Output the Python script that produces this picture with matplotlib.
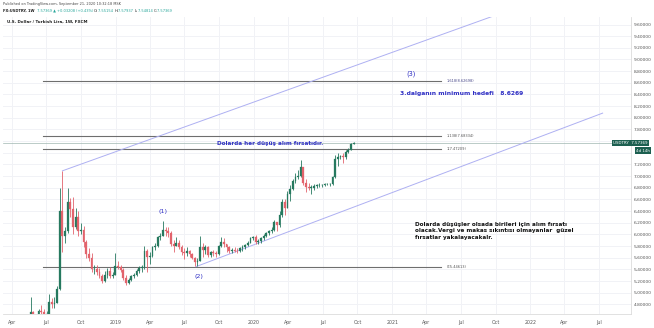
import matplotlib
matplotlib.use("Agg")
import matplotlib.pyplot as plt
import matplotlib.dates as mdates
import numpy as np
import pandas as pd

# ---- weekly USD/TRY bars (week start dates) ----
week_start = "2018-04-02"
first_open = 3.96
closes = [4.06, 4.09, 4.07, 4.06, 4.27, 4.37, 4.55, 4.66, 4.52, 4.45,
          4.69, 4.67, 4.56, 4.63, 4.84, 4.80, 4.82, 5.07, 6.40, 5.98,
          6.05, 6.55, 6.43, 6.12, 6.30, 6.05, 6.08, 5.87, 5.66, 5.60,
          5.40, 5.40, 5.36, 5.28, 5.20, 5.30, 5.37, 5.28, 5.30, 5.45,
          5.44, 5.39, 5.26, 5.16, 5.22, 5.28, 5.30, 5.37, 5.43, 5.44,
          5.72, 5.62, 5.63, 5.78, 5.80, 5.95, 5.98, 6.08, 6.06, 6.03,
          5.83, 5.80, 5.86, 5.78, 5.70, 5.68, 5.72, 5.66, 5.60, 5.52,
          5.55, 5.78, 5.74, 5.78, 5.65, 5.70, 5.68, 5.66, 5.80, 5.87,
          5.83, 5.78, 5.72, 5.74, 5.72, 5.71, 5.76, 5.78, 5.82, 5.86,
          5.93, 5.95, 5.87, 5.89, 5.93, 5.98, 6.02, 6.05, 6.08, 6.21,
          6.16, 6.33, 6.55, 6.45, 6.69, 6.78, 6.92, 6.98, 7.00, 7.15,
          6.88, 6.82, 6.80, 6.80, 6.83, 6.84, 6.84, 6.85, 6.86, 6.86,
          6.86, 6.98, 7.30, 7.33, 7.35, 7.32, 7.41, 7.45, 7.55, 7.57369]
highs = [4.08, 4.18, 4.12, 4.10, 4.29, 4.40, 4.58, 4.93, 4.68, 4.58,
         4.72, 4.78, 4.72, 4.68, 4.97, 4.90, 4.92, 5.11, 6.80, 7.09,
         6.12, 6.80, 6.62, 6.64, 6.45, 6.40, 6.20, 6.15, 5.90, 5.76,
         5.68, 5.47, 5.48, 5.42, 5.32, 5.38, 5.42, 5.44, 5.36, 5.68,
         5.54, 5.48, 5.42, 5.30, 5.25, 5.31, 5.34, 5.40, 5.45, 5.47,
         5.80, 5.75, 5.70, 5.80, 5.85, 5.98, 6.03, 6.23, 6.13, 6.12,
         6.05, 5.90, 5.95, 5.90, 5.82, 5.76, 5.78, 5.74, 5.68, 5.62,
         5.60, 5.97, 5.85, 5.82, 5.80, 5.72, 5.73, 5.72, 5.82, 5.96,
         5.93, 5.84, 5.80, 5.77, 5.78, 5.76, 5.79, 5.82, 5.84, 5.88,
         5.95, 5.98, 5.99, 5.92, 5.95, 6.00, 6.04, 6.08, 6.12, 6.25,
         6.22, 6.40, 6.60, 6.60, 6.75, 6.85, 6.95, 7.05, 7.10, 7.27,
         7.15, 6.95, 6.88, 6.84, 6.87, 6.86, 6.88, 6.87, 6.88, 6.88,
         6.88, 7.00, 7.36, 7.40, 7.37, 7.40, 7.45, 7.49, 7.56, 7.57937]
lows = [3.95, 4.03, 4.02, 4.03, 4.05, 4.24, 4.35, 4.52, 4.49, 4.42,
        4.43, 4.61, 4.50, 4.50, 4.60, 4.73, 4.74, 4.83, 5.05, 5.70,
        5.85, 6.03, 6.30, 6.00, 6.10, 5.98, 6.00, 5.78, 5.60, 5.55,
        5.36, 5.32, 5.30, 5.25, 5.16, 5.19, 5.25, 5.25, 5.25, 5.30,
        5.40, 5.36, 5.22, 5.13, 5.15, 5.20, 5.25, 5.28, 5.33, 5.36,
        5.40, 5.35, 5.50, 5.62, 5.74, 5.78, 5.90, 5.98, 5.98, 5.95,
        5.80, 5.70, 5.80, 5.75, 5.65, 5.58, 5.63, 5.62, 5.58, 5.45,
        5.46, 5.55, 5.62, 5.66, 5.62, 5.62, 5.63, 5.62, 5.65, 5.78,
        5.78, 5.70, 5.68, 5.68, 5.70, 5.68, 5.70, 5.72, 5.75, 5.80,
        5.85, 5.90, 5.84, 5.84, 5.86, 5.90, 5.96, 5.99, 6.03, 6.06,
        6.05, 6.12, 6.30, 6.34, 6.45, 6.58, 6.76, 6.88, 6.95, 6.98,
        6.85, 6.72, 6.76, 6.70, 6.76, 6.80, 6.82, 6.82, 6.83, 6.84,
        6.83, 6.84, 6.97, 7.17, 7.30, 7.22, 7.30, 7.39, 7.44, 7.54814]
last_open = 7.55154

# ---- fibonacci levels and channel anchors ----
fib_labels = ["1.618(8.62698)", "1.138(7.68334)", "1(7.47209)", "0(5.44613)"]
fib_values = [8.62698, 7.68334, 7.47209, 5.44613]
fib_span = ["2018-06-22", "2021-05-09"]
upper_channel = (["2018-08-13", "2021-09-27"], [7.09, 9.75])
lower_channel = (["2019-08-01", "2022-07-11"], [5.44613, 8.08])

price_ticks = [4.8, 5.0, 5.2, 5.4, 5.6, 5.8, 6.0, 6.2, 6.4, 6.6, 6.8, 7.0, 7.2,
               7.8, 8.0, 8.2, 8.4, 8.6, 8.8, 9.0, 9.2, 9.4, 9.6]

UP = "#26795f"
DOWN = "#e2636c"
BLUE = "#2f2fc4"
CHAN = "#aeb0f2"
GRID = "#f1f2f6"
AXC = "#555555"
TAG = "#1c5f50"

dates = pd.date_range(week_start, periods=len(closes), freq="7D")
opens = [first_open] + closes[:-1]
opens[-1] = last_open

fig = plt.figure(figsize=(6.54, 3.28), dpi=100)
W, H = 654, 328
L, R, T, B = 3, 631, 17, 314
ax = fig.add_axes([L / W, (H - B) / H, (R - L) / W, (B - T) / H])

ax.set_xlim(pd.Timestamp("2018-03-09"), pd.Timestamp("2022-09-24"))
ax.set_ylim(4.634, 9.729)


def dn(s):
    return mdates.date2num(pd.Timestamp(s))


# grid
ax.grid(True, color=GRID, lw=0.7, zorder=0)
ax.set_axisbelow(True)

# candles
x = mdates.date2num(dates)
o = np.array(opens); c = np.array(closes); h = np.array(highs); lo = np.array(lows)
col = np.where(c >= o, UP, DOWN)
ax.vlines(x, lo, h, colors=col, lw=0.6, zorder=3)
ax.bar(x, np.maximum(np.abs(c - o), 0.006), bottom=np.minimum(o, c), width=4.8,
       color=col, edgecolor=col, lw=0.2, zorder=4)

# current price line
ax.axhline(closes[-1], color="#9fb7b0", lw=0.5, zorder=2)

# fibonacci levels
fx = mdates.date2num(pd.to_datetime(fib_span))
for lab, v in zip(fib_labels, fib_values):
    ax.plot(fx, [v, v], color="#6e6e6e", lw=0.8, zorder=2)
    ax.text(fx[1] + 16, v, lab, fontsize=2.6, color="#4a4a8a" if v > 8 else "#555555",
            va="center", ha="left", zorder=5)

# channel lines
for d, v in (upper_channel, lower_channel):
    ax.plot(mdates.date2num(pd.to_datetime(d)), v, color=CHAN, lw=0.7, zorder=2)

# annotations
ax.text(dn("2021-02-19"), 8.76, "(3)", color=BLUE,
        fontsize=4.8, ha="center", va="center", zorder=6)
ax.text(dn("2021-01-21"), 8.42,
        "3.dalganın minimum hedefi   8.6269", color=BLUE, fontsize=4.35,
        fontweight="bold", ha="left", va="center", zorder=6)
ax.text(dn("2019-09-25"), 7.56,
        "Dolarda her düşüş alım fırsatıdır.", color=BLUE, fontsize=4.1,
        fontweight="bold", ha="left", va="center", zorder=6)
ax.text(dn("2019-05-06"), 6.40, "(1)", color=BLUE,
        fontsize=4.6, ha="center", va="center", zorder=6)
ax.text(dn("2019-08-08"), 5.28, "(2)", color=BLUE,
        fontsize=4.6, ha="center", va="center", zorder=6)
ax.text(dn("2021-03-03"), 6.21,
        "Dolarda düşüşler olsada birileri için alım fırsatı\n"
        "olacak.Vergi ve makas sıkıntısı olmayanlar  güzel\n"
        "fırsatlar yakalayacakalr.", color="#111111", fontsize=4.1,
        fontweight="bold", ha="left", va="top", linespacing=1.3, zorder=6)

# axes styling
for s in ("top", "left"):
    ax.spines[s].set_visible(False)
for s in ("right", "bottom"):
    ax.spines[s].set_color("#dcdcdc")
    ax.spines[s].set_linewidth(0.6)
ax.yaxis.tick_right()
ax.set_yticks(price_ticks)
ax.set_yticklabels([f"{v:.5f}" for v in price_ticks])
ax.tick_params(axis="y", length=0, pad=2, labelsize=3.2, labelcolor=AXC)
ax.yaxis.set_minor_locator(matplotlib.ticker.FixedLocator([7.4, 7.6]))
ax.tick_params(axis="y", which="minor", length=0)
ax.grid(True, which="minor", axis="y", color=GRID, lw=0.7)

ax.xaxis.set_major_locator(mdates.MonthLocator(bymonth=[1, 4, 7, 10]))


def fmt(v, pos=None):
    d = mdates.num2date(v)
    return str(d.year) if d.month == 1 else d.strftime("%b")


ax.xaxis.set_major_formatter(matplotlib.ticker.FuncFormatter(fmt))
ax.tick_params(axis="x", length=0, pad=4, labelsize=3.4, labelcolor=AXC)

# last price tag
fig.text(613 / W, (H - 143) / H, "USDTRY  7.57369", fontsize=2.9, color="white",
         va="center", ha="left",
         bbox=dict(boxstyle="square,pad=0.3", fc=TAG, ec="none"), zorder=10)
fig.text(636 / W, (H - 150.5) / H, "4d 14h", fontsize=2.9, color="white", va="center",
         ha="left", bbox=dict(boxstyle="square,pad=0.3", fc=TAG, ec="none"), zorder=10)

# header
fig.text(3 / W, 1 - 4 / H, "Published on TradingView.com, September 21, 2020 10:32:18 MSK",
         fontsize=2.5, color="#444444", va="center", ha="left")
t1 = fig.text(3 / W, 1 - 11 / H, "FX:USDTRY, 1W ", fontsize=2.6, color="#222222",
              va="center", ha="left", fontweight="bold")
t2 = fig.text(0, 0, " 7.57369 \u25b2 +0.03208 (+0.43%) ", fontsize=2.6, color="#26a69a",
              va="center", ha="left")
fig.canvas.draw()
r = fig.canvas.get_renderer()
bb = t1.get_window_extent(r)
t2.set_position((bb.x1 / fig.bbox.width, 1 - 11 / H))
xcur = t2.get_window_extent(r).x1
for key, val in (("O:", "7.55154"), ("H:", "7.57937"), ("L:", "7.54814"), ("C:", "7.57369")):
    tk = fig.text(xcur / fig.bbox.width, 1 - 11 / H, key, fontsize=2.6, color="#222222",
                  va="center", ha="left")
    xcur = tk.get_window_extent(r).x1
    tv = fig.text(xcur / fig.bbox.width, 1 - 11 / H, val + " ", fontsize=2.6,
                  color="#26a69a", va="center", ha="left")
    xcur = tv.get_window_extent(r).x1
fig.text(7 / W, 1 - 22 / H, "U.S. Dollar / Turkish Lira, 1W, FXCM", fontsize=2.9,
         color="#222222", va="center", ha="left", fontweight="bold")

fig.savefig("out.png", dpi=100, facecolor="white")
